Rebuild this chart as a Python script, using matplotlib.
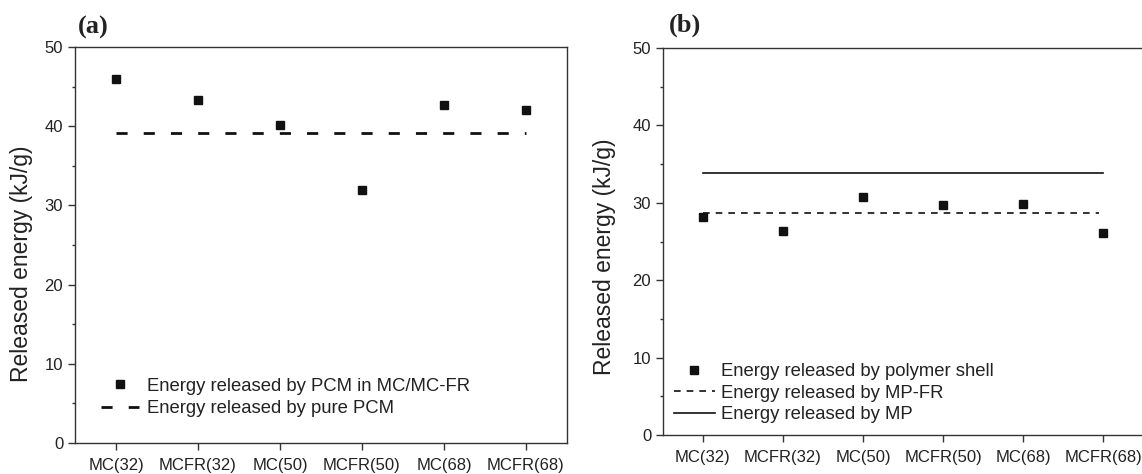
import matplotlib.pyplot as plt

plt.rcParams['font.family'] = ['Liberation Sans', 'DejaVu Sans']

categories = ['MC(32)', 'MCFR(32)', 'MC(50)', 'MCFR(50)', 'MC(68)', 'MCFR(68)']

# panel (a)
pcm_in_mc = [46.0, 43.3, 40.2, 32.0, 42.7, 42.0]
pure_pcm = 39.2

# panel (b)
polymer_shell = [28.15, 26.3, 30.8, 29.7, 29.9, 26.1]
mp_fr = 28.7
mp = 33.8

W, H = 1142, 474
fig = plt.figure(figsize=(W / 100, H / 100), dpi=100)

def px_axes(left, top, right, bottom):
    return fig.add_axes([left / W, 1 - bottom / H, (right - left) / W, (bottom - top) / H])

ax_a = px_axes(75, 47, 567, 443)
ax_b = px_axes(663, 48, 1143, 435)

text_col = '#222222'
spine_col = '#333333'
x = list(range(len(categories)))

def style(ax):
    ax.set_xlim(-0.5, 5.5)
    ax.set_ylim(0, 50)
    ax.set_xticks(x)
    ax.set_xticklabels(categories, fontsize=12, color=text_col)
    ax.set_yticks([0, 10, 20, 30, 40, 50])
    ax.set_yticks([5, 15, 25, 35, 45], minor=True)
    ax.tick_params(axis='y', labelsize=12, labelcolor=text_col)
    ax.tick_params(which='major', direction='out', length=5, width=1, color=spine_col)
    ax.tick_params(which='minor', direction='out', length=2.5, width=1, color=spine_col)
    ax.tick_params(axis='x', which='major', pad=5.5)
    ax.tick_params(axis='x', which='minor', bottom=False)
    ax.tick_params(top=False, right=False)
    for s in ax.spines.values():
        s.set_color(spine_col)
        s.set_linewidth(1)
    ax.set_ylabel('Released energy (kJ/g)', fontsize=16.5, color=text_col)

style(ax_a)
ax_a.plot(x, pcm_in_mc, 's', color='#111111', markersize=6,
          label='Energy released by PCM in MC/MC-FR')
ax_a.plot([0, 5], [pure_pcm, pure_pcm], color='#111111', lw=2,
          dashes=(4, 5.8), label='Energy released by pure PCM')
ax_a.legend(loc='upper left', bbox_to_anchor=(0.053, 0.165), frameon=False,
            fontsize=13.3, handlelength=2.05, handletextpad=0.43, labelspacing=0.3,
            borderpad=0, borderaxespad=0, labelcolor=text_col)
ax_a.yaxis.set_label_coords(-0.086, 0.452)
fig.text(93 / W, 1 - 27 / H, '(a)', fontsize=19, fontweight='bold',
         family='Liberation Serif', ha='center', va='center', color=text_col)

style(ax_b)
ax_b.spines['right'].set_visible(False)
ax_b.plot(x, polymer_shell, 's', color='#111111', markersize=6,
          label='Energy released by polymer shell')
ax_b.plot([0, 4.95], [mp_fr, mp_fr], color='#111111', lw=1.2,
          dashes=(4, 3.6), label='Energy released by MP-FR')
ax_b.plot([0, 5], [mp, mp], color='#111111', lw=1.2,
          label='Energy released by MP')
ax_b.legend(loc='upper left', bbox_to_anchor=(0.023, 0.186), frameon=False,
            fontsize=13.3, handlelength=2.2, handletextpad=0.32, labelspacing=0.25,
            borderpad=0, borderaxespad=0, labelcolor=text_col)
ax_b.yaxis.set_label_coords(-0.097, 0.46)
fig.text(685 / W, 1 - 25 / H, '(b)', fontsize=19, fontweight='bold',
         family='Liberation Serif', ha='center', va='center', color=text_col)

fig.savefig('out.png', dpi=100)
